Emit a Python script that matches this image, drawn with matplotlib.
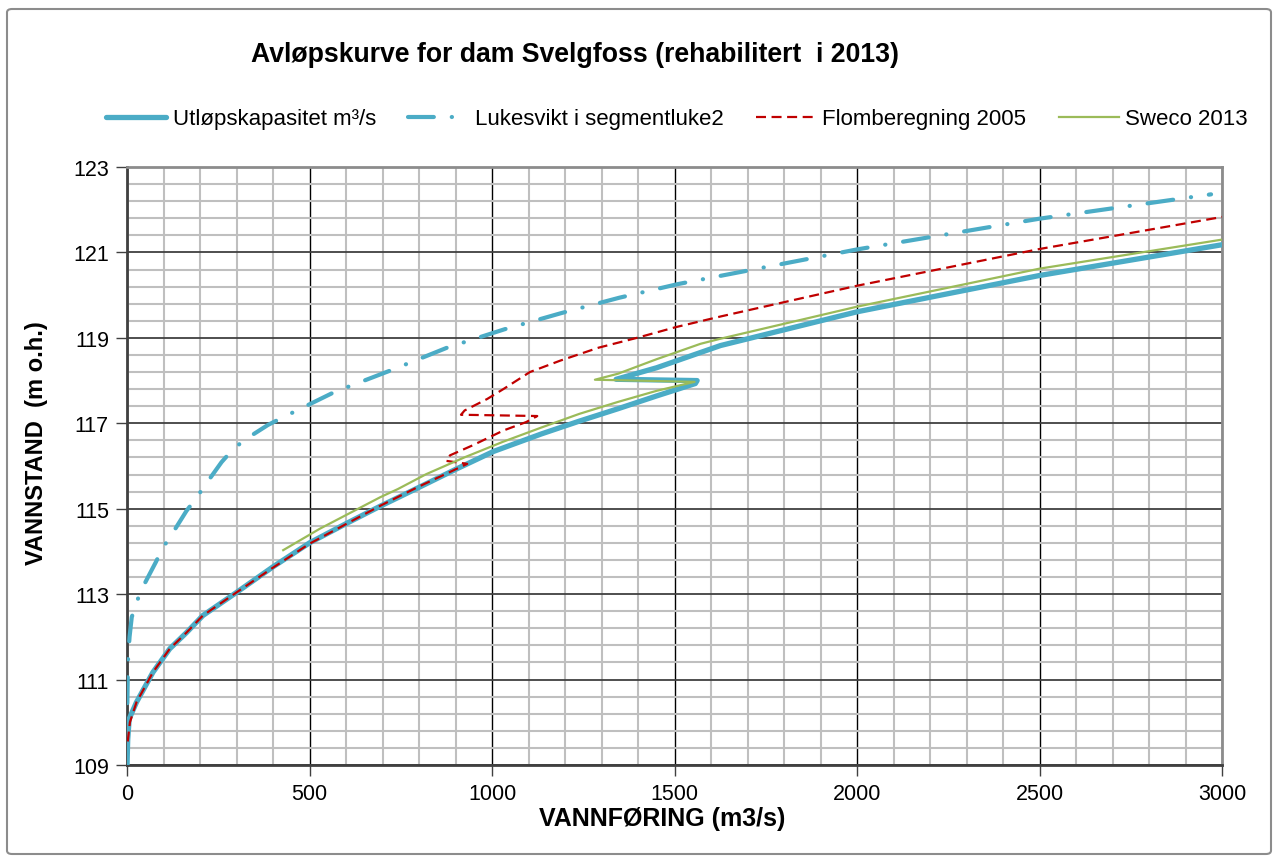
import numpy as np
import matplotlib
matplotlib.use('Agg')
import matplotlib.pyplot as plt
from matplotlib.patches import FancyBboxPatch

plt.rcParams['font.family'] = ['Liberation Sans', 'DejaVu Sans']

# Utløpskapasitet m³/s
utlop_q = [0, 2, 6, 26, 71, 117, 163, 208, 300, 400, 500, 600, 694, 800, 900, 1004,
           1135, 1239, 1345, 1451, 1557, 1562, 1340, 1451, 1626, 2000, 2500, 3000]
utlop_h = [109.0, 109.6, 110.08, 110.47, 111.17, 111.72, 112.1, 112.5, 113.04, 113.64,
           114.2, 114.65, 115.06, 115.5, 115.92, 116.34, 116.75, 117.05, 117.34, 117.64,
           117.93, 118.0, 118.03, 118.3, 118.82, 119.61, 120.46, 121.18]

# Lukesvikt i segmentluke2
luke_q = [0, 1, 3, 7, 13, 26, 43, 79, 97, 122, 163, 189, 213, 259, 287, 320, 386, 425,
          568, 726, 877, 1034, 1190, 1349, 1510, 2000, 2500, 2970]
luke_h = [109.0, 110.5, 111.5, 112.0, 112.46, 112.81, 113.16, 113.75, 114.07, 114.39,
          114.95, 115.24, 115.54, 116.09, 116.36, 116.6, 116.96, 117.13, 117.73, 118.25,
          118.77, 119.2, 119.58, 119.94, 120.26, 121.07, 121.79, 122.36]

# Flomberegning 2005
flom_q = [2, 8, 26, 71, 117, 163, 208, 300, 400, 500, 600, 694, 800, 932, 875, 885, 946,
          1031, 1094, 1124, 915, 925, 987, 1031, 1104, 1188, 1292, 1397, 1503, 1626, 2000,
          2500, 3000]
flom_h = [109.55, 110.0, 110.47, 111.17, 111.72, 112.1, 112.5, 113.04, 113.62, 114.18,
          114.64, 115.07, 115.52, 116.05, 116.12, 116.25, 116.48, 116.83, 117.03, 117.17,
          117.2, 117.3, 117.57, 117.8, 118.2, 118.47, 118.77, 119.0, 119.25, 119.5, 120.22,
          121.08, 121.83]

# Sweco 2013
sweco_q = [428, 528, 694, 742, 820, 924, 1031, 1135, 1239, 1345, 1451, 1555, 1282, 1345,
           1451, 1571, 1626, 2000, 2500, 3000]
sweco_h = [114.03, 114.53, 115.27, 115.46, 115.81, 116.2, 116.57, 116.9, 117.22, 117.5,
           117.76, 117.97, 118.02, 118.16, 118.5, 118.86, 118.98, 119.73, 120.62, 121.3]

x_major = [0, 500, 1000, 1500, 2000, 2500, 3000]
y_major = [109, 111, 113, 115, 117, 119, 121, 123]

blue = '#4BACC6'
red = '#C00000'
green = '#9BBB59'

fig = plt.figure(figsize=(12.78, 8.62), dpi=100)
ax = fig.add_axes([127 / 1278, 1 - 766 / 862, 1095 / 1278, 598 / 862])

ax.plot(utlop_q, utlop_h, color=blue, lw=3.8, solid_capstyle='round',
        solid_joinstyle='round', label='Utløpskapasitet m³/s', zorder=3)
ax.plot(luke_q, luke_h, color=blue, lw=3.0, linestyle=(0, (6.2, 4.3, 0.05, 4.3)),
        dash_capstyle='round', label='Lukesvikt i segmentluke2', zorder=3)
ax.plot(flom_q, flom_h, color=red, lw=1.6, linestyle=(0, (4.5, 2.5)),
        label='Flomberegning 2005', zorder=4)
ax.plot(sweco_q, sweco_h, color=green, lw=1.6, label='Sweco 2013', zorder=4)

ax.set_xlim(0, 3000)
ax.set_ylim(109, 123)
ax.set_xticks(x_major)
ax.set_xticks(np.arange(0, 3001, 100), minor=True)
ax.set_yticks(y_major)
ax.set_yticks(np.arange(109, 123.01, 0.4), minor=True)

ax.grid(which='minor', color='#BFBFBF', lw=1.5, zorder=0)
ax.grid(which='major', axis='x', color='#000000', lw=1.0, zorder=1)
ax.grid(which='major', axis='y', color='#404040', lw=1.3, zorder=1)
ax.set_axisbelow(True)

ax.tick_params(which='minor', length=0)
ax.tick_params(which='major', length=8, width=1, color='#404040', labelsize=15.5,
               pad=5)
for side in ['left', 'bottom']:
    ax.spines[side].set_color('#404040')
    ax.spines[side].set_linewidth(2)
for side in ['top', 'right']:
    ax.spines[side].set_color('#8C8C8C')
    ax.spines[side].set_linewidth(2)

ax.set_xlabel('VANNFØRING (m3/s)', fontsize=18, fontweight='bold')
ax.set_ylabel('VANNSTAND  (m o.h.)', fontsize=17, fontweight='bold')
ax.xaxis.set_label_coords(0.489, -0.068)
ax.yaxis.set_label_coords(-0.072, 0.54)

fig.text(575 / 1278, 1 - 55 / 862, 'Avløpskurve for dam Svelgfoss (rehabilitert  i 2013)',
         ha='center', va='center', fontsize=19.2, fontweight='bold')

fig.legend(loc='center', bbox_to_anchor=(677 / 1278, 1 - 120 / 862), ncol=4,
           frameon=False, fontsize=16, handlelength=2.7, columnspacing=1.45,
           handletextpad=0.3)

fig.patches.append(FancyBboxPatch((7 / 1278, 1 - 855 / 862), 1264 / 1278, 845 / 862,
                                  boxstyle='round,pad=0,rounding_size=0.004',
                                  transform=fig.transFigure, fill=False,
                                  edgecolor='#8C8C8C', lw=1.5))

fig.savefig('out.png', dpi=100)
